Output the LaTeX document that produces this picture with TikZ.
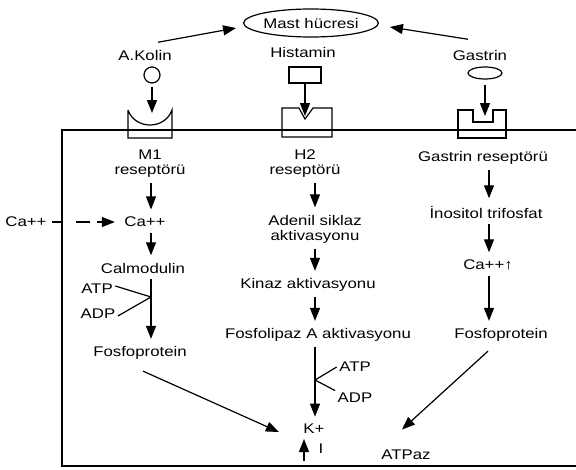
\documentclass[tikz,border=0pt]{standalone}
\usepackage{fontspec}
\setmainfont{Liberation Sans}[FakeStretch=1.2]
\usepackage{tikz}
\usetikzlibrary{arrows.meta}
\usetikzlibrary{shapes.geometric}

\tikzset{
  lbl/.style={font=\fontsize{14}{15}\selectfont, align=center, inner sep=2pt},
  flow/.style={->, shorten >=5pt, shorten <=3pt},
}

\begin{document}
\begin{tikzpicture}[x=1pt, y=-1pt, line width=1.2pt, >={Triangle[length=13pt,width=10pt]}]
    \useasboundingbox (0,0) rectangle (576,469);

    % Cell and messengers
    \node[lbl, draw, ellipse, minimum width=124pt, minimum height=28pt, inner sep=0pt] (mast) at (311,23) {Mast hücresi};
    \node[lbl] (akolin) at (145,55) {A.Kolin};
    \node[lbl] (histamin) at (303,52) {Histamin};
    \node[lbl] (gastrin) at (480,55) {Gastrin};
    \node[draw, circle, minimum size=16pt, inner sep=0pt] (ach) at (152,75) {};
    \node[draw, rectangle, minimum width=32pt, minimum height=16pt, inner sep=0pt] (hist) at (305,75) {};
    \node[draw, ellipse, minimum width=34pt, minimum height=12pt, inner sep=0pt] (gas) at (485,73) {};

    % Membrane
    \draw[line width=1.3pt] (576,130) -- (62,130) -- (62,466) -- (576,466);

    % Receptors
    \draw (128,110) -- (128,138) -- (172,138) -- (172,110) .. controls (165,130) and (135,130) .. (128,110);
    \draw (282,137) -- (282,108) -- (299,108) -- (305,119) -- (313,108) -- (332,108) -- (332,137) -- cycle;
    \draw (458,138) -- (458,110) -- (473,110) -- (473,122) -- (493,122) -- (493,110) -- (506,110) -- (506,138) -- cycle;
    \coordinate (m1site) at (152,113);
    \coordinate (h2site) at (305,116);
    \coordinate (gsite) at (485,116);

    % Columns
    \coordinate (colL) at (151,0);
    \coordinate (colM) at (315,0);
    \coordinate (colR) at (489,0);

    % Left column
    \node[lbl] (m1) at (150,164) {M1\\reseptörü};
    \node[lbl] (ca) at (145,222) {Ca++};
    \node[lbl] (caout) at (26,222) {Ca++};
    \node[lbl] (calm) at (143,268) {Calmodulin};
    \node[lbl] (atpL) at (97,289) {ATP};
    \node[lbl] (adpL) at (98,314) {ADP};
    \node[lbl] (fosfoL) at (140,353) {Fosfoprotein};

    % Middle column
    \node[lbl] (h2) at (305,164) {H2\\reseptörü};
    \node[lbl] (aden) at (315,229) {Adenil siklaz\\aktivasyonu};
    \node[lbl] (kinaz) at (308,285) {Kinaz aktivasyonu};
    \node[lbl] (fosfolip) at (318,335) {Fosfolipaz A aktivasyonu};
    \node[lbl] (atpM) at (355,367) {ATP};
    \node[lbl] (adpM) at (355,398) {ADP};
    \node[lbl] (kplus) at (314,429) {K+};
    \node[lbl] (kin) at (321,449) {I};
    \node[lbl] (atpaz) at (406,455) {ATPaz};

    % Right column
    \node[lbl] (grec) at (483,158) {Gastrin reseptörü};
    \node[lbl] (inos) at (486,212) {İnositol trifosfat};
    \node[lbl] (caup) at (488,265) {Ca++↑};
    \node[lbl] (fosfoR) at (501,335) {Fosfoprotein};

    % Edges
    \draw[->] ([xshift=13pt,yshift=5pt]akolin.north) -- ([xshift=-7pt,yshift=-5pt]mast.west);
    \draw[->] ([xshift=-12pt,yshift=8pt]gastrin.north) -- ([xshift=11pt,yshift=-4pt]mast.east);
    \draw[->, shorten <=3pt] (ach) -- (m1site);
    \draw[->] (hist) -- (h2site);
    \draw[->, shorten <=5pt] (gas) -- (gsite);

    \draw[flow] (m1.south -| colL) -- (ca.north -| colL);
    \draw[->, dash pattern=on 10pt off 14pt on 14pt off 7pt, shorten <=3pt, shorten >=7pt] (caout) -- (ca);
    \draw[flow] (ca.south -| colL) -- (calm.north -| colL);
    \draw[flow] (calm.south -| colL) -- (fosfoL.north -| colL);
    \coordinate (jL) at (151,297);
    \draw ([yshift=3pt]atpL.east) -- (jL) -- ([yshift=-2pt]adpL.east);

    \draw[flow] (h2.south -| colM) -- (aden.north -| colM);
    \draw[flow] (aden.south -| colM) -- (kinaz.north -| colM);
    \draw[flow] (kinaz.south -| colM) -- (fosfolip.north -| colM);
    \draw[flow] (fosfolip.south -| colM) -- (kplus.north -| colM);
    \coordinate (jM) at (315,380);
    \draw (atpM.west) -- (jM) -- (adpM.north west);

    \draw[flow] (grec.south -| colR) -- (inos.north -| colR);
    \draw[flow] (inos.south -| colR) -- (caup.north -| colR);
    \draw[flow] (caup.south -| colR) -- (fosfoR.north -| colR);

    \draw[->] ([xshift=3pt,yshift=-9pt]fosfoL.south) -- ([xshift=-22pt,yshift=-3pt]kplus.west);
    \draw[->] ([xshift=-13pt,yshift=-7pt]fosfoR.south) -- ([xshift=-4pt,yshift=18pt]atpaz.north);
    \coordinate (kinS) at (304,461);
    \coordinate (kinE) at (304,439);
    \draw[->] (kinS) -- (kinE);
\end{tikzpicture}
\end{document}
